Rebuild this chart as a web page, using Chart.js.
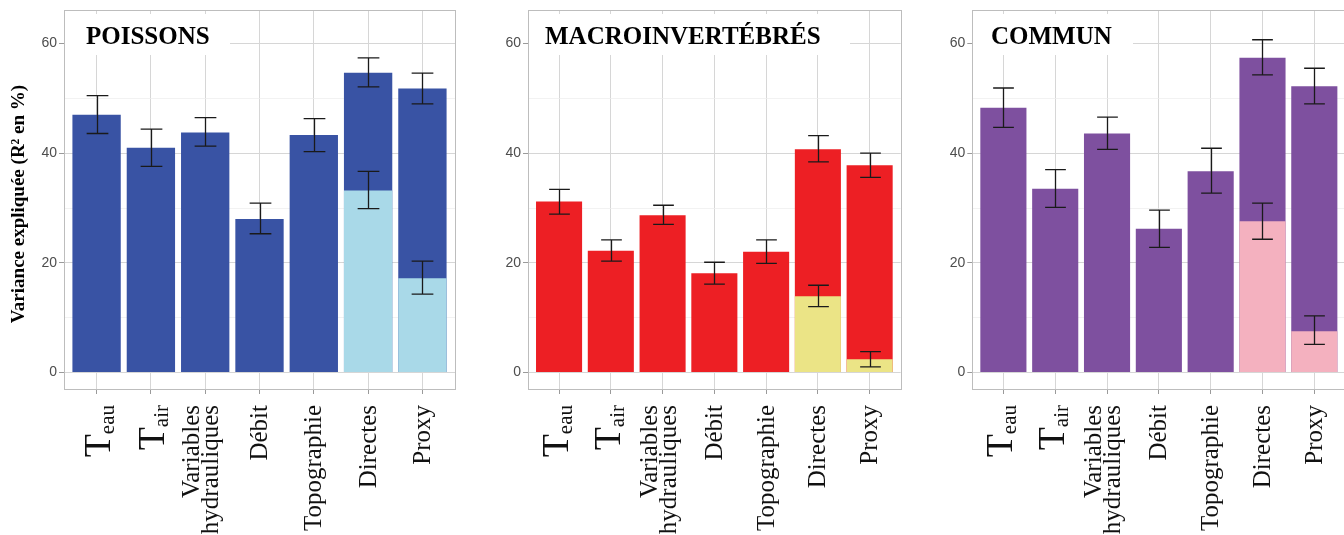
<!DOCTYPE html>
<html><head><meta charset="utf-8">
<script src="https://cdn.jsdelivr.net/npm/chart.js@4.4.1/dist/chart.umd.min.js"></script>
<style>
html,body{margin:0;padding:0;background:#fff;overflow:hidden;width:1344px;height:535px;}
.panel{position:absolute;top:0;height:535px;}
canvas{display:block;}
</style></head><body>
<div class="panel" style="left:0;width:460px"><canvas id="c1" width="460" height="535"></canvas></div>
<div class="panel" style="left:460px;width:460px"><canvas id="c2" width="460" height="535"></canvas></div>
<div class="panel" style="left:920px;width:440px"><canvas id="c3" width="440" height="535"></canvas></div>
<script>
// ---- data ----
const categories = ['T|eau', 'T|air', 'Variables\nhydrauliques', 'Débit', 'Topographie', 'Directes', 'Proxy'];
const yTickLabels = [0, 20, 40, 60];
const yAxisTitle = 'Variance expliquée (R² en %)';
const panelTitles = ['POISSONS', 'MACROINVERTÉBRÉS', 'COMMUN'];

const poissonsTotal     = [47.0, 41.0, 43.8, 28.0, 43.3, 54.7, 51.8];
const poissonsTotalLow  = [43.6, 37.6, 41.3, 25.3, 40.3, 52.1, 49.0];
const poissonsTotalHigh = [50.5, 44.4, 46.5, 30.9, 46.3, 57.4, 54.6];
const poissonsPart      = [null, null, null, null, null, 33.2, 17.2];
const poissonsPartLow   = [null, null, null, null, null, 29.9, 14.3];
const poissonsPartHigh  = [null, null, null, null, null, 36.7, 20.3];

const macroTotal     = [31.2, 22.2, 28.7, 18.1, 22.0, 40.7, 37.8];
const macroTotalLow  = [28.9, 20.3, 27.0, 16.1, 19.9, 38.4, 35.6];
const macroTotalHigh = [33.4, 24.2, 30.5, 20.1, 24.2, 43.2, 40.0];
const macroPart      = [null, null, null, null, null, 13.9, 2.4];
const macroPartLow   = [null, null, null, null, null, 12.0, 1.0];
const macroPartHigh  = [null, null, null, null, null, 15.9, 3.8];

const communTotal     = [48.3, 33.5, 43.6, 26.2, 36.7, 57.4, 52.2];
const communTotalLow  = [44.7, 30.1, 40.7, 22.8, 32.7, 54.3, 49.0];
const communTotalHigh = [51.9, 37.0, 46.6, 29.6, 40.9, 60.7, 55.5];
const communPart      = [null, null, null, null, null, 27.6, 7.5];
const communPartLow   = [null, null, null, null, null, 24.3, 5.1];
const communPartHigh  = [null, null, null, null, null, 30.9, 10.3];

// ---- drawing ----
const SERIF = '"Liberation Serif", "Times New Roman", serif';
const SANS = '"Liberation Sans", Arial, sans-serif';

function makePanel(id, cfg) {
  const W = cfg.width, H = 535;
  const decor = {
    id: 'decor' + id,
    beforeDatasetsDraw(chart) {
      const ctx = chart.ctx, a = chart.chartArea;
      ctx.save();
      ctx.fillStyle = '#ffffff';
      ctx.fillRect(a.left + 0.5, 14, cfg.boxRight - a.left - 0.5, 41);
      ctx.fillStyle = '#000';
      ctx.font = 'bold 25px ' + SERIF;
      ctx.textAlign = 'left';
      ctx.textBaseline = 'alphabetic';
      ctx.fillText(cfg.title, cfg.titleX, 43.5);
      ctx.restore();
    },
    afterDatasetsDraw(chart) {
      const ctx = chart.ctx, a = chart.chartArea;
      const xs = chart.scales.x, ys = chart.scales.y;
      const half = (xs.getPixelForValue(1) - xs.getPixelForValue(0)) * 0.2;
      ctx.save();
      // error bars
      ctx.strokeStyle = '#1a1a1a';
      ctx.lineWidth = 1.3;
      const drawErr = (lo, hi) => {
        for (let i = 0; i < lo.length; i++) {
          if (lo[i] == null) continue;
          const x = Math.round(xs.getPixelForValue(i)) + 0.5;
          const y1 = ys.getPixelForValue(lo[i]), y2 = ys.getPixelForValue(hi[i]);
          ctx.beginPath();
          ctx.moveTo(x, y1); ctx.lineTo(x, y2);
          ctx.moveTo(x - half, y1); ctx.lineTo(x + half, y1);
          ctx.moveTo(x - half, y2); ctx.lineTo(x + half, y2);
          ctx.stroke();
        }
      };
      drawErr(cfg.totalLow, cfg.totalHigh);
      drawErr(cfg.partLow, cfg.partHigh);
      // panel border
      ctx.strokeStyle = '#bdbdbd';
      ctx.lineWidth = 1;
      ctx.strokeRect(Math.round(a.left) + 0.5, Math.round(a.top) + 0.5, Math.round(a.right - a.left), Math.round(a.bottom - a.top));
      // x labels
      ctx.fillStyle = '#111';
      const yTop = a.bottom + 16;
      categories.forEach((lab, i) => {
        const x = xs.getPixelForValue(i);
        ctx.save();
        ctx.translate(x, yTop);
        ctx.rotate(-Math.PI / 2);
        if (lab.indexOf('|') >= 0) {
          const [main, sub] = lab.split('|');
          ctx.font = '38px ' + SERIF;
          const wMain = ctx.measureText(main).width;
          ctx.font = '21px ' + SERIF;
          const wSub = ctx.measureText(sub).width;
          ctx.textBaseline = 'alphabetic';
          ctx.textAlign = 'left';
          ctx.font = '38px ' + SERIF;
          ctx.fillText(main, -(wMain + wSub), cfg.tOffset + 13);
          ctx.font = '21px ' + SERIF;
          ctx.fillText(sub, -wSub, cfg.tOffset + 17);
        } else {
          const lines = lab.split('\n');
          ctx.font = '25px ' + SERIF;
          ctx.textAlign = 'right';
          ctx.textBaseline = 'middle';
          const lh = 19;
          lines.forEach((ln, k) => {
            const off = (k - (lines.length - 1) / 2) * lh - (lines.length > 1 ? 4 : 0) + 1;
            ctx.fillText(ln, 0, off);
          });
        }
        ctx.restore();
      });
      // y axis title
      if (cfg.yTitle) {
        ctx.save();
        ctx.translate(19, 204);
        ctx.rotate(-Math.PI / 2);
        ctx.font = 'bold 19px ' + SERIF;
        ctx.fillStyle = '#000';
        ctx.textAlign = 'center';
        ctx.textBaseline = 'middle';
        ctx.fillText(yAxisTitle, 0, 0);
        ctx.restore();
      }
      ctx.restore();
    }
  };

  const idx = categories.map((_, i) => i);
  return new Chart(document.getElementById(id), {
    type: 'bar',
    data: {
      labels: idx,
      datasets: [
        { data: cfg.part, backgroundColor: cfg.light, grouped: false, barPercentage: 0.89, categoryPercentage: 1, borderWidth: 0 },
        { data: cfg.total, backgroundColor: cfg.dark, grouped: false, barPercentage: 0.89, categoryPercentage: 1, borderWidth: 0 }
      ]
    },
    options: {
      responsive: false,
      animation: false,
      events: [],
      layout: { padding: { top: 9, right: W - cfg.right, left: 0, bottom: 0 } },
      plugins: { legend: { display: false }, tooltip: { enabled: false } },
      scales: {
        x: {
          type: 'linear', min: -0.6, max: 6.6, offset: false,
          afterFit: s => { s.height = H - 389; },
          afterBuildTicks: s => { s.ticks = categories.map((_, i) => ({ value: i })); },
          ticks: { stepSize: 1, includeBounds: false, display: false },
          grid: { offset: false, color: '#d6d6d6', lineWidth: 1, drawTicks: true, tickLength: 5, tickColor: '#9a9a9a' },
          border: { display: false }
        },
        y: {
          min: -3.03, max: 66.06,
          afterFit: s => { s.width = cfg.left; },
          afterBuildTicks: s => { s.ticks = [0, 10, 20, 30, 40, 50, 60].map(v => ({ value: v })); },
          ticks: {
            padding: 2,
            color: '#4d4d4d',
            font: { family: SANS, size: 14 },
            callback: v => (yTickLabels.includes(v) ? String(v) : '')
          },
          grid: {
            color: c => (c.tick && yTickLabels.includes(c.tick.value)) ? '#d6d6d6' : '#ececec',
            lineWidth: c => (c.tick && yTickLabels.includes(c.tick.value)) ? 1 : 0.7,
            tickColor: c => (c.tick && yTickLabels.includes(c.tick.value)) ? '#9a9a9a' : 'rgba(0,0,0,0)',
            tickLength: 5
          },
          border: { display: false }
        }
      }
    },
    plugins: [decor]
  });
}

makePanel('c1', {
  width: 460, left: 64, right: 455, title: panelTitles[0], titleX: 86, boxRight: 230, yTitle: true, tOffset: 0,
  dark: '#3953a4', light: '#a9d9e8',
  total: poissonsTotal, totalLow: poissonsTotalLow, totalHigh: poissonsTotalHigh,
  part: poissonsPart, partLow: poissonsPartLow, partHigh: poissonsPartHigh
});
makePanel('c2', {
  width: 460, left: 68, right: 440.7, title: panelTitles[1], titleX: 85, boxRight: 390, yTitle: false, tOffset: -4,
  dark: '#ed1f24', light: '#ebe486',
  total: macroTotal, totalLow: macroTotalLow, totalHigh: macroTotalHigh,
  part: macroPart, partLow: macroPartLow, partHigh: macroPartHigh
});
makePanel('c3', {
  width: 440, left: 52.3, right: 425.4, title: panelTitles[2], titleX: 71, boxRight: 213, yTitle: false, tOffset: -4,
  dark: '#7e509f', light: '#f4b1bf',
  total: communTotal, totalLow: communTotalLow, totalHigh: communTotalHigh,
  part: communPart, partLow: communPartLow, partHigh: communPartHigh
});
</script>
</body></html>
